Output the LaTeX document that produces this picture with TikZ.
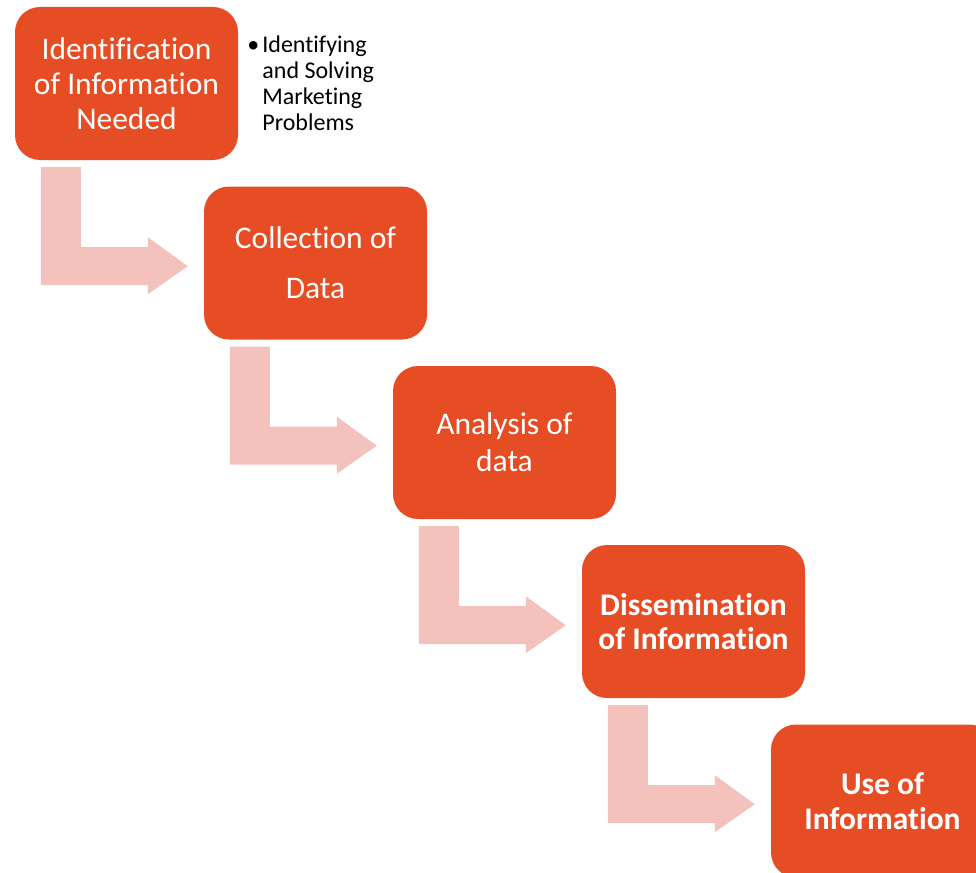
\documentclass[tikz,border=0pt]{standalone}
\usepackage{fontspec}
\setmainfont{Carlito}[RawFeature={-liga;-clig;-calt}]
\usetikzlibrary{calc}
\definecolor{stepred}{HTML}{E64D25}
\definecolor{steppink}{HTML}{F4C2BD}

\begin{document}
\begin{tikzpicture}[x = 1pt, y = -1pt,
        stage/.style = {fill = stepred, rounded corners = 25pt, minimum width = 223pt,
            minimum height = 153pt, text = white, align = center, inner sep = 0pt},
        bentarrow/.style = {fill = steppink}]
    % Canvas
    \useasboundingbox (0,0) rectangle (976,872);
    \clip (0,0) rectangle (976,872);

    % Stages, each one step down and to the right
    \node[stage, font = \fontsize{31.5}{35}\selectfont] (ident) at (126.5, 83.5) {Identification\\of Information\\Needed};
    \node[stage, font = \fontsize{31.5}{50}\selectfont] (collect) at (315.5, 263) {Collection of\\Data};
    \node[stage, font = \fontsize{31.5}{37}\selectfont] (analyse) at (504.5, 442.5) {Analysis of\\data};
    \node[stage, font = \bfseries\fontsize{31.5}{34}\selectfont] (spread) at (693.5, 621.5) {Dissemination\\of Information};
    \node[stage, font = \bfseries\fontsize{31.5}{35}\selectfont] (use) at (882.5, 801) {Use of\\Information};

    % Side note
    \node[anchor = north west, align = left, inner sep = 0pt, font = \fontsize{24}{26}\selectfont]
        (note) at ($(ident.north east)+(24,29)$) {\llap{•\hspace{3pt}}Identifying\\and Solving\\Marketing\\Problems};

    % Bent arrows between the stages
    \foreach \from in {ident, collect, analyse, spread} {
        \begin{scope}[shift = {(\from.south west)}]
            \fill[bentarrow] (26,7) -- (66,7) -- (66,87) -- (133,87) -- (133,77) -- (173,106)
                -- (133,134) -- (133,125) -- (26,125) -- cycle;
        \end{scope}
    }
\end{tikzpicture}
\end{document}
